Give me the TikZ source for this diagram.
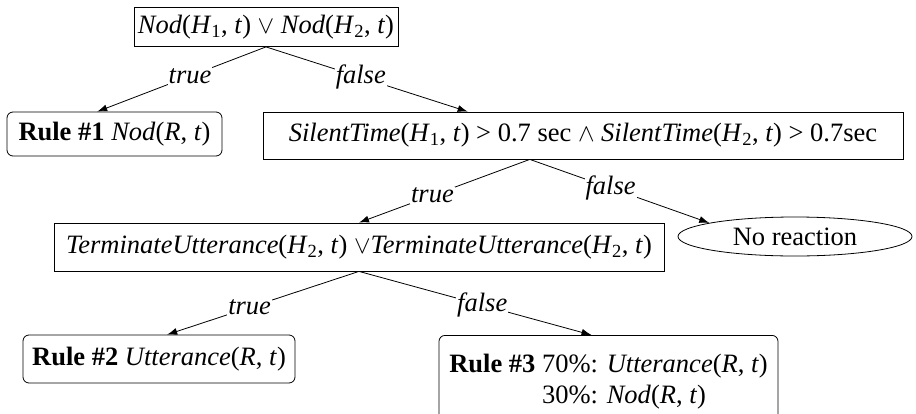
\documentclass[tikz,border=0pt]{standalone}
\usepackage{fontspec}
\setmainfont{Liberation Serif}
\usetikzlibrary{shapes.geometric,calc,arrows.meta}
\newcommand{\fn}[1]{\textit{#1}}
\newcommand{\hh}[1]{\textit{H}\textsubscript{#1}}
\begin{document}
\begin{tikzpicture}[x=1pt, y=-1pt, >={Latex[length=10pt,width=7pt]}, line width=0.8pt,
    font=\fontsize{26.5}{31}\selectfont,
    test/.style = {draw, rectangle},
    rule/.style = {draw, rectangle, rounded corners=6pt},
    leaf/.style = {draw, ellipse},
    lab/.style = {fill=white, inner sep=1pt, font=\fontsize{26.5}{31}\selectfont\itshape}]
    \useasboundingbox (0,0) rectangle (916,413);
    \node[test, minimum width=264pt, minimum height=39pt, inner sep=0pt] (1) at (266,27) {\fn{Nod}(\hh{1}, \fn{t}) $\vee$ \fn{Nod}(\hh{2}, \fn{t})};
    \node[rule, minimum width=215pt, minimum height=44pt, inner sep=0pt] (2) at (114.5,134) {\textbf{Rule \#1} \fn{Nod}(\fn{R}, \fn{t})};
    \node[test, minimum width=640pt, minimum height=47pt, inner sep=0pt] (3) at (583,135.5) {\fn{SilentTime}(\hh{1}, \fn{t}) > 0.7 sec $\wedge$ \fn{SilentTime}(\hh{2}, \fn{t}) > 0.7sec};
    \node[leaf, minimum width=234pt, minimum height=39pt, inner sep=0pt] (4) at (795,236.5) {No reaction};
    \node[test, minimum width=610pt, minimum height=48pt, inner sep=0pt] (5) at (359,247) {\fn{TerminateUtterance}(\hh{2}, \fn{t}) $\vee$\fn{TerminateUtterance}(\hh{2}, \fn{t})};
    \node[rule, minimum width=272pt, minimum height=48pt, inner sep=0pt] (6) at (159,359) {\textbf{Rule \#2} \fn{Utterance}(\fn{R}, \fn{t})};
    \node[rule, minimum width=339pt, minimum height=92pt, inner sep=0pt, anchor=north] (7) at (608.5,335) {%
      \begin{tabular}{@{}l@{ }l@{}}\textbf{Rule \#3} & 70\%: \fn{Utterance}(\fn{R}, \fn{t})\\ & 30\%: \fn{Nod}(\fn{R}, \fn{t})\end{tabular}};
    \coordinate (3s) at ($(3.south west)!0.417!(3.south east)$);
    \draw[->] (1.south) -- node[lab, pos=0.45] {true} ($(2.north west)!0.42!(2.north east)$);
    \draw[->] (1.south) -- node[lab, pos=0.47] {false} ($(3.north west)!0.32!(3.north east)$);
    \draw[->] (3s) -- node[lab, pos=0.57] {true} (5.north);
    \draw[->] (3s) -- node[lab, pos=0.45] {false} (4.171);
    \draw[->] (5.south) -- node[lab, pos=0.57] {true} ($(6.north west)!0.53!(6.north east)$);
    \draw[->] (5.south) -- node[lab, pos=0.53] {false} ($(7.north west)!0.45!(7.north east)$);
\end{tikzpicture}
\end{document}
